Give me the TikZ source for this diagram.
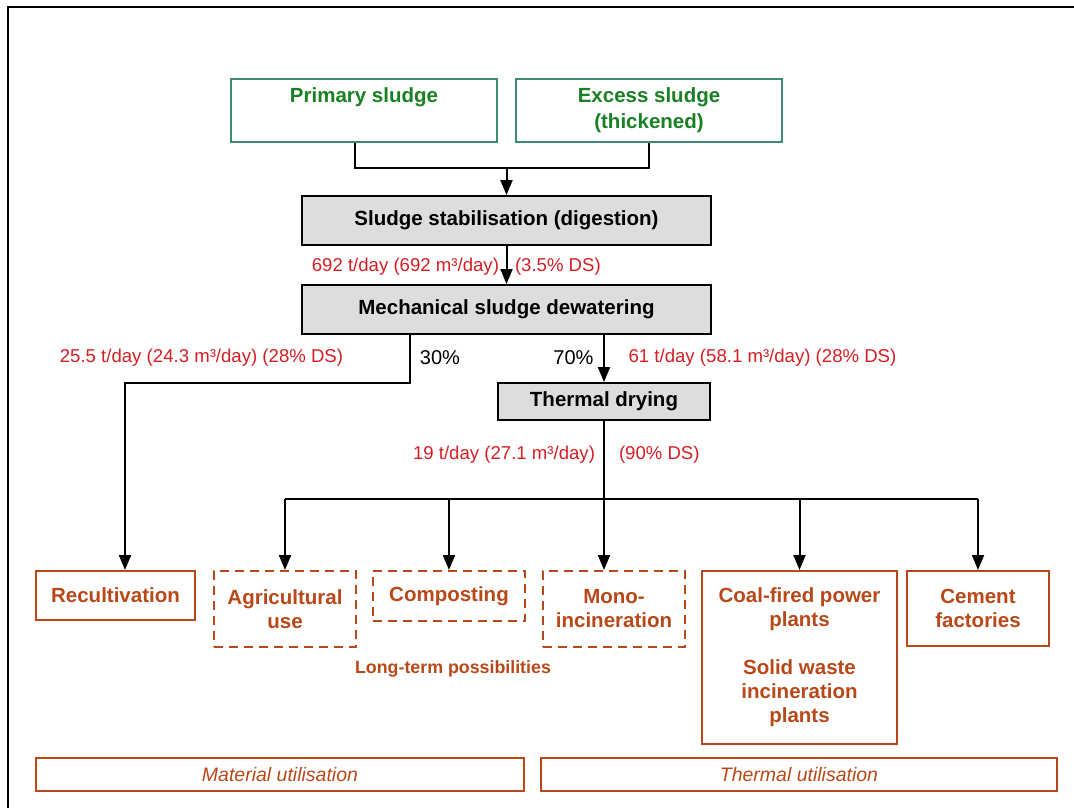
\documentclass[tikz,border=0pt]{standalone}
\usepackage{fontspec}
\setmainfont{Liberation Sans}
\usetikzlibrary{arrows.meta,calc}

\definecolor{sludgegreen}{RGB}{25,128,35}
\definecolor{framegreen}{RGB}{60,140,110}
\definecolor{procgray}{RGB}{221,221,221}
\definecolor{flowred}{RGB}{215,30,35}
\definecolor{usebrown}{RGB}{185,72,25}

\begin{document}
\begin{tikzpicture}[x=1pt, y=-1pt, line width=2pt,
    >={Triangle[length=15pt,width=12pt]},
    boxsize/.style 2 args={minimum width=#1pt, minimum height=#2pt},
    srcbox/.style={draw=framegreen, line width=1.6pt, text=sludgegreen, align=center,
      inner sep=0pt, font=\fontsize{20.5}{26}\selectfont\bfseries},
    procbox/.style={draw=black, fill=procgray, inner sep=0pt,
      font=\fontsize{20.5}{24}\selectfont\bfseries},
    usebox/.style={draw=usebrown, text=usebrown, align=center, inner sep=0pt,
      font=\fontsize{20.5}{24}\selectfont\bfseries},
    optbox/.style={usebox, dash pattern=on 9pt off 6pt},
    groupbox/.style={draw=usebrown, text=usebrown, inner sep=0pt,
      font=\fontsize{19.5}{24}\selectfont\itshape},
    flow/.style={text=flowred, inner sep=0pt, font=\fontsize{18.6}{22}\selectfont},
    share/.style={inner sep=0pt, font=\fontsize{20}{24}\selectfont}]

  \useasboundingbox (0,0) rectangle (1074,808);
  \draw[line width=2.5pt] (1074,7) -- (8,7) -- (8,808);

  % sludge sources
  \node[srcbox, boxsize={266}{63}] (prim) at (364,110.5) {Primary sludge\\\phantom{(thickened)}};
  \node[srcbox, boxsize={266}{63}] (exc) at (649,110.5) {Excess sludge\\(thickened)};

  % treatment steps
  \node[procbox, boxsize={409}{49}] (stab) at (506.5,220.5) {Sludge stabilisation (digestion)};
  \node[procbox, boxsize={409}{49}] (mech) at (506.5,309.5) {Mechanical sludge dewatering};
  \node[procbox, boxsize={212}{37}] (dry) at (604,401.5) {Thermal drying};

  % end uses
  \node[usebox, boxsize={159}{49}] (recult) at (115.5,595.5) {Recultivation};
  \node[optbox, boxsize={142}{76}] (agri) at (285,609) {Agricultural\\use};
  \node[optbox, boxsize={152}{50}] (comp) at (449,596) {Composting};
  \node[optbox, boxsize={142}{76}] (mono) at (614,609) {Mono-\\incineration};
  \node[usebox, boxsize={195}{173}] (coal) at (799.5,657.5)
    {Coal-fired power\\plants\\[24pt]Solid waste\\incineration\\plants};
  \node[usebox, boxsize={142}{75}] (cem) at (978,608.5) {Cement\\factories};
  \node[text=usebrown, inner sep=0pt, font=\fontsize{17.8}{20}\selectfont\bfseries]
    (longterm) at (453,669) {Long-term possibilities};

  \node[groupbox, boxsize={488}{33}] (matu) at (280,774.5) {Material utilisation};
  \node[groupbox, boxsize={516}{33}] (thmu) at (799,774.5) {Thermal utilisation};

  % flows
  \coordinate (join) at (506.5,168);
  \draw ($(prim.south)+(-9,0)$) |- (join);
  \draw (exc.south) |- (join);
  \draw[->] (join) -- (stab.north);

  \draw[->] (stab.south) -- (mech.north);
  \node[flow, anchor=east] (q1) at (500,267) {692 t/day (692 m³/day)};
  \node[flow, anchor=west] (ds1) at (514,267) {(3.5\% DS)};

  \coordinate (tapL) at (410,383);
  \coordinate (bendL) at (125,383);
  \draw[->] (mech.south -| tapL) -- (tapL) -- (bendL) -- (bendL |- recult.north);
  \draw[->] (mech.south -| dry.north) -- (dry.north);
  \node[flow] (q2) at (201.5,358) {25.5 t/day (24.3 m³/day) (28\% DS)};
  \node[share] (p30) at (440,358) {30\%};
  \node[share] (p70) at (573.5,358) {70\%};
  \node[flow] (q3) at (762.5,358) {61 t/day (58.1 m³/day) (28\% DS)};

  \coordinate (hub) at (604,499);
  \draw (dry.south) -- (hub);
  \node[flow, anchor=east] (q4) at (596,455) {19 t/day (27.1 m³/day)};
  \node[flow, anchor=west] (ds4) at (618,455) {(90\% DS)};
  \draw (hub -| agri.north) -- (hub -| cem.north);
  \foreach \t in {agri, comp, coal, cem} {
    \draw[->] (hub -| \t.north) -- (\t.north);
  }
  \draw[->] (hub) -- (hub |- mono.north);
\end{tikzpicture}
\end{document}
